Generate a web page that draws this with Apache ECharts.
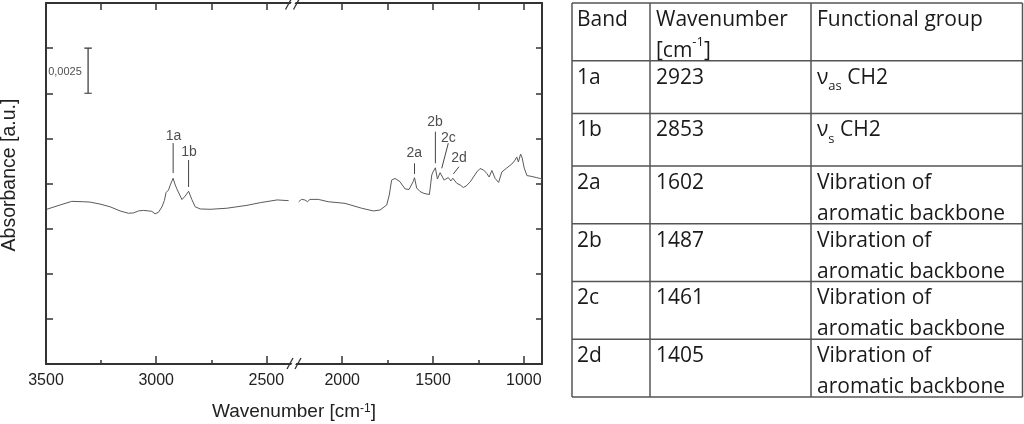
<!DOCTYPE html>
<html><head><meta charset="utf-8">
<script src="https://cdn.jsdelivr.net/npm/echarts@6/dist/echarts.min.js"></script>
<style>html,body{margin:0;padding:0;background:#fff}#c{width:1024px;height:424px}</style>
</head><body><div id="c"></div>
<script>
// ---- spectrum, high wavenumber segment ----
const wnHigh = [3497,3436,3383,3330,3300,3255,3209,3164,3126,3103,3080,3058,3035,3020,3005,2990,2974,2963,2955,2944,2936,2923,2915,2906,2883,2868,2853,2838,2823,2800,2755,2679,2588,2527,2451,2399];
const absHigh = [0.00857,0.00881,0.00901,0.00899,0.00897,0.00886,0.00871,0.00848,0.00835,0.00837,0.00848,0.00851,0.00848,0.00846,0.00832,0.00840,0.00870,0.00905,0.00950,0.00964,0.00992,0.01029,0.00997,0.00970,0.00911,0.00931,0.00957,0.00911,0.00871,0.00859,0.00857,0.00863,0.00879,0.00894,0.00909,0.00905];
// ---- spectrum, low wavenumber segment ----
const wnLow = [2240,2224,2206,2191,2178,2132,2077,1985,1893,1829,1792,1755,1741,1728,1709,1682,1654,1632,1609,1602,1590,1572,1550,1520,1507,1500,1487,1476,1461,1439,1416,1402,1391,1369,1351,1333,1318,1296,1259,1241,1222,1204,1191,1176,1158,1139,1121,1094,1066,1048,1039,1030,1018,1009,998,983,956,932,910,900];
const absLow = [0.00899,0.00912,0.00909,0.00899,0.00912,0.00912,0.00899,0.00890,0.00863,0.00848,0.00853,0.00881,0.00936,0.01019,0.01028,0.01010,0.00970,0.00967,0.01011,0.01032,0.00975,0.00956,0.00945,0.00939,0.01047,0.01064,0.01087,0.01025,0.01060,0.01019,0.01033,0.01014,0.01029,0.01001,0.00992,0.00978,0.00986,0.01008,0.01064,0.01083,0.01075,0.01056,0.01036,0.01072,0.01028,0.01006,0.01064,0.01086,0.01108,0.01130,0.01147,0.01119,0.01163,0.01141,0.01086,0.01044,0.01039,0.01033,0.01028,0.01022];
// ---- axis ticks ----
const majorHigh = [3500,3000,2500];
const minorHigh = [3250,2750];
const majorLow = [2000,1500,1000];
const minorLow = [1750,1250];
// ---- peak annotations (data coordinates) ----
const peakNames = ['1a','1b','2a','2b','2c','2d'];
const peakTextWn = [2921,2851,1603,1489,1416,1357];
const peakTextAbs = [0.01263,0.01171,0.01167,0.01342,0.01254,0.01140];
const peakTopWn = [2923,2853,1602,1487,1416,1357];
const peakTopAbs = [0.01224,0.01130,0.01112,0.01287,0.01223,0.01093];
const peakBotWn = [2923,2853,1602,1487,1452,1388];
const peakBotAbs = [0.01058,0.00981,0.01053,0.01112,0.01084,0.01053];
// ---- scale bar ----
const scaleWn = 3309, scaleLow = 0.015, scaleHigh = 0.0175, scaleText = '0,0025';
const scaleTextWn = 3414, scaleTextAbs = 0.01619;
// ---- table ----
const headers = ['Band', 'Wavenumber\n[cm{sup|-1}]', 'Functional group'];
const bands = ['1a','1b','2a','2b','2c','2d'];
const bandWn = [2923,2853,1602,1487,1461,1405];
const groups = ['ν{sub|as} CH2','ν{sub|s} CH2','Vibration of\naromatic backbone','Vibration of\naromatic backbone','Vibration of\naromatic backbone','Vibration of\naromatic backbone'];

const chart = echarts.init(document.getElementById('c'), null, {renderer:'canvas'});
const AX = '#333', TXT = '#222', FONT = "'Liberation Sans', Arial, sans-serif";
const TFONT = "'Open Sans', sans-serif";
const G = {top:3, height:361};
const gridHigh = Object.assign({left:46, width:249}, G);
const gridLow = Object.assign({left:295, width:247}, G);

function xAx(grid, pos, min, max, ticks, len, labels, line) {
  return {
    type:'value', gridIndex:grid, position:pos, inverse:true, min:min, max:max,
    splitLine:{show:false},
    axisLine:{show:line, lineStyle:{color:AX, width:2}},
    axisTick:{show:true, inside:true, length:len, customValues:ticks, lineStyle:{color:AX, width:1.5}},
    axisLabel: labels ? {show:true, customValues:labels, formatter:v=>String(v), fontSize:16, color:TXT, fontFamily:FONT, margin:9, showMinLabel:true, showMaxLabel:true} : {show:false}
  };
}
function yAx(grid, pos, len, show) {
  return {
    type:'value', gridIndex:grid, position:pos, min:0, max:0.02, interval:0.0025, show:show,
    splitLine:{show:false}, axisLabel:{show:false},
    axisLine:{show:true, lineStyle:{color:AX, width:2}},
    axisTick:{show:true, inside:true, length:len, lineStyle:{color:AX, width:1.5}}
  };
}
const hiMin = 2370, hiMax = 3500, loMin = 900, loMax = 2260;

const series = [];
series.push({type:'line', xAxisIndex:0, yAxisIndex:0, data:wnHigh.map((w,i)=>[w,absHigh[i]]), showSymbol:false, silent:true, lineStyle:{color:'#5a5a5a', width:1}, z:3});
series.push({type:'line', xAxisIndex:2, yAxisIndex:1, data:wnLow.map((w,i)=>[w,absLow[i]]), showSymbol:false, silent:true, lineStyle:{color:'#5a5a5a', width:1}, z:3});
peakNames.forEach((n,i)=>{
  const hi = peakTopWn[i] > 2300;
  series.push({type:'line', xAxisIndex:hi?0:2, yAxisIndex:hi?0:1, showSymbol:false, silent:true,
    data:[[peakTopWn[i],peakTopAbs[i]],[peakBotWn[i],peakBotAbs[i]]], lineStyle:{color:'#444', width:1}, z:4});
  series.push({type:'scatter', xAxisIndex:hi?0:2, yAxisIndex:hi?0:1, symbolSize:0, silent:true,
    data:[{name:n, value:[peakTextWn[i],peakTextAbs[i]]}],
    label:{show:true, position:'inside', formatter:'{b}', fontSize:14, color:TXT, fontFamily:FONT}, z:4});
});
// scale bar
const cap = 17;
[[[scaleWn,scaleLow],[scaleWn,scaleHigh]],[[scaleWn-cap,scaleLow],[scaleWn+cap,scaleLow]],[[scaleWn-cap,scaleHigh],[scaleWn+cap,scaleHigh]]].forEach(d=>{
  series.push({type:'line', xAxisIndex:0, yAxisIndex:0, showSymbol:false, silent:true, data:d, lineStyle:{color:'#333', width:1.2}, z:4});
});
series.push({type:'scatter', xAxisIndex:0, yAxisIndex:0, symbolSize:0, silent:true,
  data:[{name:scaleText, value:[scaleTextWn, scaleTextAbs]}],
  label:{show:true, position:'inside', formatter:'{b}', fontSize:11, color:TXT, fontFamily:FONT}});

// graphic: break marks, axis titles, table
const graphic = [];
function brk(cx, cy) {
  graphic.push({type:'polygon', z:100, shape:{points:[[cx-5,cy+5],[cx+1,cy-5],[cx+5,cy-5],[cx-1,cy+5]]}, style:{fill:'#fff'}});
  graphic.push({type:'line', z:101, shape:{x1:cx-7,y1:cy+5.5,x2:cx-1,y2:cy-5.5}, style:{stroke:'#333', lineWidth:1.3}});
  graphic.push({type:'line', z:101, shape:{x1:cx+1,y1:cy+5.5,x2:cx+7,y2:cy-5.5}, style:{stroke:'#333', lineWidth:1.3}});
}
brk(294, 363.5);
brk(292.5, 4);
graphic.push({type:'text', z:50, x:294, y:412, style:{text:'Wavenumber [cm{sup|-1}]', fontSize:19, fontFamily:FONT, fill:TXT,
  align:'center', verticalAlign:'middle', textAlign:'center', textVerticalAlign:'middle',
  rich:{sup:{fontSize:12, fontFamily:FONT, fill:TXT, verticalAlign:'top', lineHeight:14}}}});
graphic.push({type:'text', z:50, x:10, y:175, rotation:Math.PI/2, style:{text:'Absorbance [a.u.]', fontSize:19.5, fontFamily:FONT, fill:TXT,
  align:'center', verticalAlign:'middle', textAlign:'center', textVerticalAlign:'middle'}});

// table
const colX = [572, 650, 811, 1022.5];
const pads = [5, 6, 6];
const rows = [headers].concat(bands.map((b,i)=>[b, String(bandWn[i]), groups[i]]));
const rowTops = [3];
rows.forEach(r=>{
  const n = Math.max.apply(null, r.map(c=>c.split('\n').length));
  rowTops.push(rowTops[rowTops.length-1] + (n===2 ? 57.7 : 52.7));
});
const TL = '#555';
rowTops.forEach(y=>graphic.push({type:'line', shape:{x1:colX[0], y1:y, x2:colX[3], y2:y}, style:{stroke:TL, lineWidth:1.5}}));
colX.forEach(x=>graphic.push({type:'line', shape:{x1:x, y1:rowTops[0], x2:x, y2:rowTops[rowTops.length-1]}, style:{stroke:TL, lineWidth:1.5}}));
rows.forEach((r,ri)=>{
  r.forEach((c,ci)=>{
    graphic.push({type:'text', x:colX[ci]+pads[ci], y:rowTops[ri]+1.5, style:{
      text:c, fontSize:21, fontFamily:TFONT, fill:'#1a1a1a', lineHeight:31,
      align:'left', verticalAlign:'top', textAlign:'left', textVerticalAlign:'top',
      rich:{
        sub:{fontSize:13, fontFamily:TFONT, fill:'#1a1a1a', verticalAlign:'bottom', lineHeight:16},
        sup:{fontSize:13, fontFamily:TFONT, fill:'#1a1a1a', verticalAlign:'top', lineHeight:20}
      }}});
  });
});

chart.setOption({
  animation:false,
  backgroundColor:'#fff',
  grid:[gridHigh, gridLow, Object.assign({}, gridHigh), Object.assign({}, gridLow)],
  xAxis:[
    xAx(0,'bottom',hiMin,hiMax,majorHigh,8,majorHigh,true),
    xAx(0,'top',hiMin,hiMax,majorHigh.concat(minorHigh),7,null,true),
    xAx(1,'bottom',loMin,loMax,majorLow,8,majorLow,true),
    xAx(1,'top',loMin,loMax,majorLow.concat(minorLow),7,null,true),
    xAx(2,'bottom',hiMin,hiMax,minorHigh,4,null,false),
    xAx(3,'bottom',loMin,loMax,minorLow,4,null,false)
  ],
  yAxis:[
    yAx(0,'left',7,true),
    yAx(1,'right',6,true),
    yAx(2,'left',0,false),
    yAx(3,'left',0,false)
  ],
  series:series,
  graphic:graphic
});
</script>
</body></html>
